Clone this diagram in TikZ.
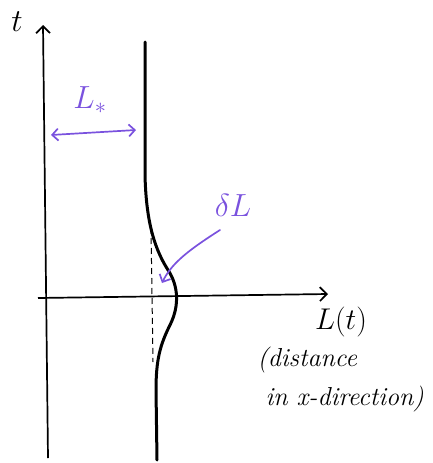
\documentclass[tikz,border=0pt]{standalone}
\usepackage{fix-cm}
\usepackage{xcolor}
\usetikzlibrary{positioning,arrows.meta}
\definecolor{pen}{RGB}{122,82,222}

\begin{document}
\begin{tikzpicture}[
  x=1pt, y=-1pt,
  font=\fontsize{26}{30}\selectfont\itshape,
  axis/.style={-{Straight Barb[length=7pt,width=14pt]}, line width=1.7pt},
  front/.style={line width=3pt, line cap=round},
  guide/.style={dash pattern=on 6pt off 4pt, line width=1pt},
  note/.style={pen, line width=1.7pt, line cap=round},
  notetip/.style={note, {Straight Barb[length=6pt,width=12pt]}-{Straight Barb[length=6pt,width=12pt]}},
]
\useasboundingbox (0,0) rectangle (433,463);

% axes
\coordinate (tbot) at (48,458);
\coordinate (ttop) at (43,25);
\coordinate (xl) at (38,298);
\coordinate (xr) at (328,294);
\draw[axis] (tbot) -- (ttop);
\draw[axis] (xl) -- (xr);
\node (tlab) at (17,22) {\fontsize{32}{36}\selectfont$t$};
\node (Llab) at (341,322) {\fontsize{30}{34}\selectfont$L(t)$};
\node[anchor=west] (dist) at (254,360) {(distance};
\node[anchor=west] (indir) at (262,399) {in x-direction)};

% front
\draw[front] (145,42) -- (145,175)
  .. controls (146,215) and (152,245) .. (168,270)
  .. controls (178,285) and (180,305) .. (170,325)
  .. controls (160,345) and (156,360) .. (156,390) -- (157,460);
\coordinate (dtop) at (151,228);
\coordinate (dbot) at (153,362);
\draw[guide] (dtop) -- (dbot);

% L_* and delta L
\coordinate (la) at (51,135);
\coordinate (lb) at (136,130);
\draw[notetip] (la) -- (lb);
\node[pen] (Lstar) at (90,100) {\fontsize{32}{36}\selectfont$L_*$};
\node[pen] (dL) at (233,205) {\fontsize{32}{36}\selectfont$\delta L$};
\coordinate (dlfrom) at (220,230);
\coordinate (dlto) at (162,283);
\draw[note, -{Straight Barb[length=6pt,width=12pt]}] (dlfrom)
  .. controls (192,248) and (172,262) .. (dlto);
\end{tikzpicture}
\end{document}
